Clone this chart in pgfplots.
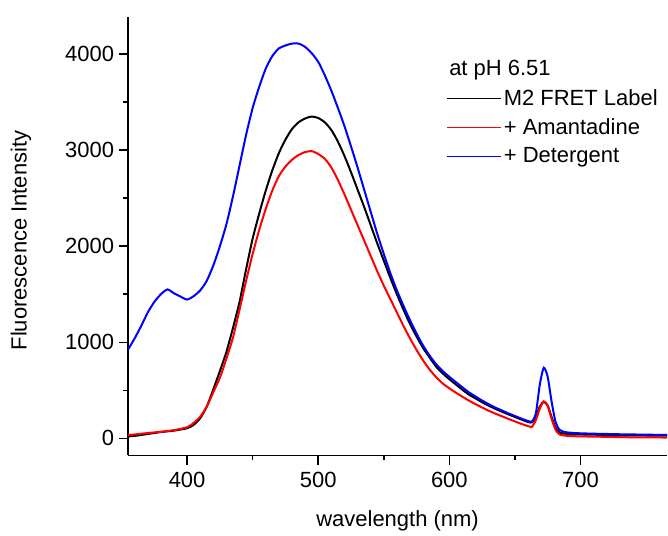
\documentclass[border=0pt]{standalone}
\usepackage{pgfplots}
\pgfplotsset{compat=1.18}
\usepackage{pgfplotstable}
\usepackage{fontspec}
\setmainfont{Liberation Sans}

\newcommand{\lbl}{\fontsize{16.5}{19}\selectfont}
\pgfplotsset{longline/.style={legend image code/.code={\draw[##1] (0pt,0pt) -- (40pt,0pt);}}}

% wavelength (nm) vs intensity
\pgfplotstableread{
x y
355 20
360 25
370 45
380 65
390 80
400 105
405 140
410 210
415 330
420 510
425 700
430 900
435 1150
440 1420
445 1760
450 2080
455 2340
460 2580
465 2790
470 2970
475 3110
480 3220
485 3290
490 3330
495 3350
500 3335
505 3290
510 3210
515 3090
520 2940
525 2770
530 2590
535 2410
540 2220
545 2030
550 1850
555 1670
560 1500
565 1340
570 1190
575 1060
580 940
585 840
590 745
595 675
600 615
605 560
610 505
615 455
620 415
625 375
630 340
635 307
640 278
645 249
650 222
655 195
660 170
663 165
666 220
669 330
672 380
675 340
678 220
681 110
684 60
690 45
700 40
720 35
740 30
766 28
}\labelM

\pgfplotstableread{
x y
355 35
360 40
370 55
380 68
390 85
400 115
405 160
410 225
415 330
420 480
425 630
430 830
435 1050
440 1340
445 1640
450 1920
455 2170
460 2390
465 2580
470 2730
475 2830
480 2900
485 2950
490 2980
495 2990
500 2960
505 2910
510 2820
515 2690
520 2540
525 2380
530 2220
535 2060
540 1900
545 1740
550 1590
555 1450
560 1310
565 1170
570 1040
575 920
580 810
585 715
590 635
595 570
600 520
605 475
610 432
615 392
620 355
625 320
630 287
635 257
640 230
645 202
650 176
655 150
660 127
663 120
666 190
669 310
672 385
675 340
678 200
681 90
684 40
690 25
700 20
720 15
740 10
766 8
}\amant

\pgfplotstableread{
x y
355 925
360 1040
365 1170
370 1310
375 1420
380 1500
385 1550
390 1510
395 1475
400 1445
405 1480
410 1540
415 1640
420 1800
425 2000
430 2230
435 2520
440 2840
445 3160
450 3440
455 3660
460 3850
465 3980
470 4060
475 4090
480 4110
485 4110
490 4075
495 4010
500 3920
505 3780
510 3620
515 3440
520 3250
525 3040
530 2820
535 2590
540 2360
545 2130
550 1920
555 1720
560 1540
565 1380
570 1230
575 1090
580 965
585 860
590 770
595 700
600 640
605 585
610 530
615 478
620 435
625 393
630 355
635 320
640 290
645 260
650 232
655 205
660 180
663 175
666 260
669 560
672 735
675 640
678 380
681 170
684 90
688 65
695 55
700 52
710 48
720 45
730 42
740 40
750 38
760 36
766 35
}\deterg

\begin{document}
\begin{tikzpicture}
\begin{axis}[
  scale only axis, width=404.8pt, height=329.25pt,
  xmin=355, xmax=766, ymin=-177, ymax=4387,
  axis x line*=bottom, axis y line*=left,
  axis line style={-, line width=1.1pt},
  every tick/.style={black, line width=1.1pt},
  tick align=outside,
  major tick length=7pt, minor tick length=3.75pt,
  xtick={400,500,600,700}, minor x tick num=1,
  ytick={0,1000,2000,3000,4000}, minor y tick num=1,
  /pgf/number format/assume math mode=true,
  /pgf/number format/1000 sep={},
  tick label style={font=\lbl},
  xticklabel style={yshift=-2pt},
  xlabel={wavelength (nm)}, ylabel={Fluorescence Intensity},
  every axis x label/.style={at={(axis description cs:0.5,-0.149)}, anchor=center, font=\lbl},
  every axis y label/.style={at={(axis description cs:-0.199,0.49)}, rotate=90, anchor=center, font=\lbl},
  clip=false,
  legend cell align=left,
  longline,
  legend style={draw=none, fill=none, at={(0.5905,0.907)}, anchor=north west,
    font=\lbl, row sep=4.5pt, inner sep=0pt},
]
\addplot[black, line width=1.5pt, smooth, tension=0.4, forget plot] table[x=x, y=y] {\labelM};
\addplot[red, line width=1.5pt, smooth, tension=0.4, forget plot] table[x=x, y=y] {\amant};
\addplot[blue, line width=1.5pt, smooth, tension=0.4, forget plot] table[x=x, y=y] {\deterg};
\addlegendimage{empty legend}
\addlegendentry{\hspace{-41pt}at pH 6.51}
\addlegendimage{black, line width=1pt}
\addlegendentry{M2 FRET Label}
\addlegendimage{red, line width=1pt}
\addlegendentry{+ Amantadine}
\addlegendimage{blue, line width=1pt}
\addlegendentry{+ Detergent}
\path (axis description cs:-0.2377,-0.1731) rectangle (axis description cs:1,1.0387);
\end{axis}
\end{tikzpicture}
\end{document}
